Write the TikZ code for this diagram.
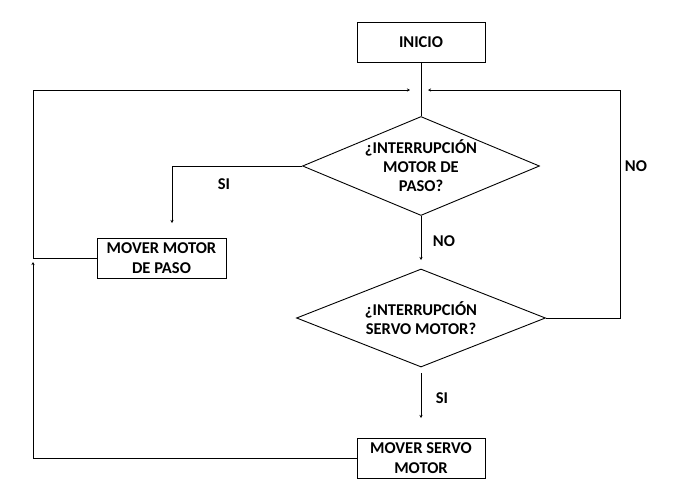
\documentclass[tikz,border=0pt]{standalone}
\usepackage{fontspec}
\setmainfont{Carlito}
\usetikzlibrary{shapes.geometric,arrows.meta}
\tikzset{
  box/.style={draw, line width=0.9pt, inner sep=0pt, align=center},
  decision/.style={draw, shape=diamond, line width=0.9pt, inner sep=0pt},
  txt/.style={align=center, inner sep=0pt, font=\fontsize{16.5}{19}\selectfont\bfseries},
  conn/.style={line width=0.9pt},
  arr/.style={line width=0.9pt, -{Stealth[length=3pt,width=3pt]}}
}
\begin{document}
\begin{tikzpicture}[x=1pt,y=-1pt]
\useasboundingbox (0,0) rectangle (680,496);
% nodes
\node[box, minimum width=128, minimum height=40] (inicio) at (421,42) {};
\node[txt] at (inicio) {INICIO};
\node[decision, minimum width=237, minimum height=99] (d1) at (421,166) {};
\node[txt] at (d1) {¿INTERRUPCIÓN\\MOTOR DE\\PASO?};
\node[decision, minimum width=249, minimum height=98] (d2) at (421,318) {};
\node[txt] at (d2) {¿INTERRUPCIÓN\\SERVO MOTOR?};
\node[box, minimum width=129, minimum height=40] (pp) at (161.5,258) {};
\node[txt, font=\fontsize{16.5}{20.5}\selectfont\bfseries] at (pp) {MOVER MOTOR\\DE PASO};
\node[box, minimum width=128, minimum height=40] (sm) at (421,458) {};
\node[txt, font=\fontsize{16.5}{20.5}\selectfont\bfseries] at (sm) {MOVER SERVO\\MOTOR};
% labels
\node[txt] (lsi1) at (224,184) {SI};
\node[txt] (lno1) at (444,241) {NO};
\node[txt] (lno2) at (636,166) {NO};
\node[txt] (lsi2) at (442,398) {SI};
% coordinates
\coordinate (inL) at (410,90);
\coordinate (inR) at (428,90);
\coordinate (ltop) at (33,90);
\coordinate (lmid) at (33,258);
\coordinate (lmidend) at (33,262);
\coordinate (lbot) at (33,458);
\coordinate (rtop) at (620,90);
\coordinate (siA) at (172,223);
\coordinate (noA) at (421,260);
\coordinate (d2s) at (421,373);
\coordinate (siB) at (421,418);
% connectors
\draw[conn] (inicio.south) -- (d1.north);
\draw[arr] (pp.west) -- (lmid) -- (ltop) -- (inL);
\draw[arr] (sm.west) -- (lbot) -- (lmidend);
\draw[arr] (d1.west) -| (siA);
\draw[arr] (d1.south) -- (noA);
\draw[arr] (d2.east) -| (rtop) -- (inR);
\draw[arr] (d2s) -- (siB);
\end{tikzpicture}
\end{document}
